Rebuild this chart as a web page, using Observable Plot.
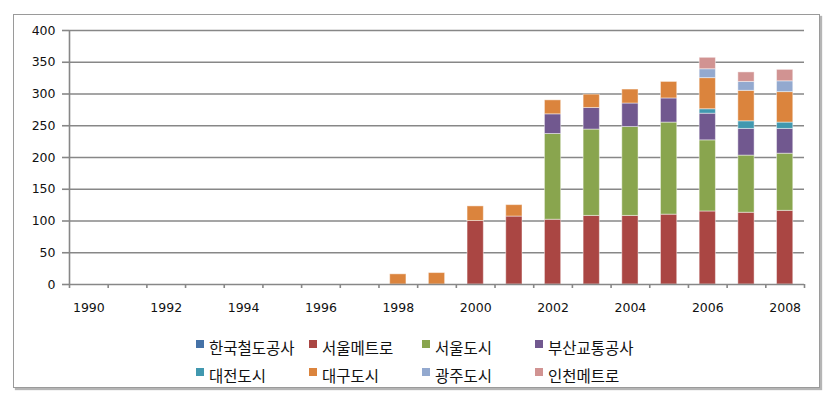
<!DOCTYPE html>
<html>
<head>
<meta charset="utf-8">
<script src="https://cdn.jsdelivr.net/npm/d3@7"></script>
<script src="https://cdn.jsdelivr.net/npm/@observablehq/plot@0.6"></script>
<style>
  html, body { margin: 0; padding: 0; background: #fff; }
  #wrap { position: relative; width: 833px; height: 404px; overflow: hidden; }
  #frame { position: absolute; left: 13px; top: 14px; width: 805px; height: 372px;
           border: 1px solid #9a9a9a; box-shadow: 2px 2px 1px #b5b5b5; }
  #chart { position: absolute; left: 0; top: 0; }
  #legend { position: absolute; left: 196px; top: 338px; display: grid;
            grid-template-columns: repeat(4, 113px); row-gap: 10px;
            font-family: "Noto Sans CJK KR", sans-serif; font-size: 15.5px; color: #111; }
  .item { display: flex; align-items: flex-start; height: 18px; line-height: 18px; white-space: nowrap; }
  .sw { width: 8px; height: 8px; margin-top: 2px; margin-right: 5px; flex: none; }
</style>
</head>
<body>
<div id="wrap">
  <div id="frame"></div>
  <div id="chart"></div>
  <div id="legend"></div>
</div>
<script>
const years = d3.range(1990, 2009);
const seriesNames = ["한국철도공사", "서울메트로", "서울도시", "부산교통공사", "대전도시", "대구도시", "광주도시", "인천메트로"];
const seriesColors = ["#4572A7", "#AA4643", "#89A54E", "#71588F", "#4198AF", "#DB843D", "#93A9CF", "#D19392"];

// values per year (1990..2008), one array per series
const korail      = [0,0,0,0,0,0,0,0,0,0,0,0,0,0,0,0,0,0,0];
const seoulMetro  = [0,0,0,0,0,0,0,0,0,0,100,107,102,108,108,110,115,113,116];
const seoulCity   = [0,0,0,0,0,0,0,0,0,0,0,0,135,136,140,145,112,90,90];
const busan       = [0,0,0,0,0,0,0,0,0,0,0,0,31,34,37,38,42,42,39];
const daejeon     = [0,0,0,0,0,0,0,0,0,0,0,0,0,0,0,0,7,12,10];
const daegu       = [0,0,0,0,0,0,0,0,16,18,23,18,22,21,22,26,49,48,48];
const gwangju     = [0,0,0,0,0,0,0,0,0,0,0,0,0,0,0,0,14,14,17];
const incheon     = [0,0,0,0,0,0,0,0,0,0,0,0,0,0,0,0,18,15,18];

const yTicks = [0, 50, 100, 150, 200, 250, 300, 350, 400];
const xLabels = [1990, 1992, 1994, 1996, 1998, 2000, 2002, 2004, 2006, 2008];

const seriesValues = [korail, seoulMetro, seoulCity, busan, daejeon, daegu, gwangju, incheon];
const data = [];
years.forEach((yr, i) => {
  seriesNames.forEach((s, k) => data.push({year: yr, series: s, value: seriesValues[k][i]}));
});
const bounds = d3.range(1989.5, 2009, 1);

const plot = Plot.plot({
  width: 833,
  height: 320,
  marginLeft: 69,
  marginRight: 29,
  marginTop: 30,
  marginBottom: 36,
  style: {fontFamily: "DejaVu Sans, sans-serif", fontSize: "12.5px", color: "#111", background: "transparent"},
  x: {domain: [1989.5, 2008.5], axis: null, label: null},
  y: {domain: [0, 400], axis: null, label: null},
  color: {domain: seriesNames, range: seriesColors},
  marks: [
    Plot.ruleY(yTicks.filter(d => d > 0), {stroke: "#878787", strokeWidth: 1.6}),
    Plot.rectY(data, {
      x1: d => d.year - 0.21,
      x2: d => d.year + 0.21,
      y: "value",
      fill: "series",
      stroke: "#ffffff",
      strokeOpacity: 0.45,
      strokeWidth: 1
    }),
    Plot.ruleY([0], {stroke: "#878787", strokeWidth: 1.6}),
    Plot.ruleX([1989.5], {y1: 0, y2: 400, stroke: "#878787", strokeWidth: 1.6}),
    Plot.axisY({ticks: yTicks, tickSize: 7, tickPadding: 7, stroke: "#878787", strokeWidth: 1.6, tickFormat: d => String(d), label: null}),
    Plot.axisX({ticks: bounds, tickSize: 4, tickFormat: () => "", stroke: "#878787", strokeWidth: 1.6, label: null}),
    Plot.axisX({ticks: xLabels, tickSize: 0, tickPadding: 19, tickFormat: d => String(d), label: null})
  ]
});
document.getElementById("chart").appendChild(plot);

const legend = document.getElementById("legend");
seriesNames.forEach((s, k) => {
  const item = document.createElement("div");
  item.className = "item";
  const sw = document.createElement("span");
  sw.className = "sw";
  sw.style.background = seriesColors[k];
  const t = document.createElement("span");
  t.textContent = s;
  item.appendChild(sw);
  item.appendChild(t);
  legend.appendChild(item);
});
</script>
</body>
</html>
